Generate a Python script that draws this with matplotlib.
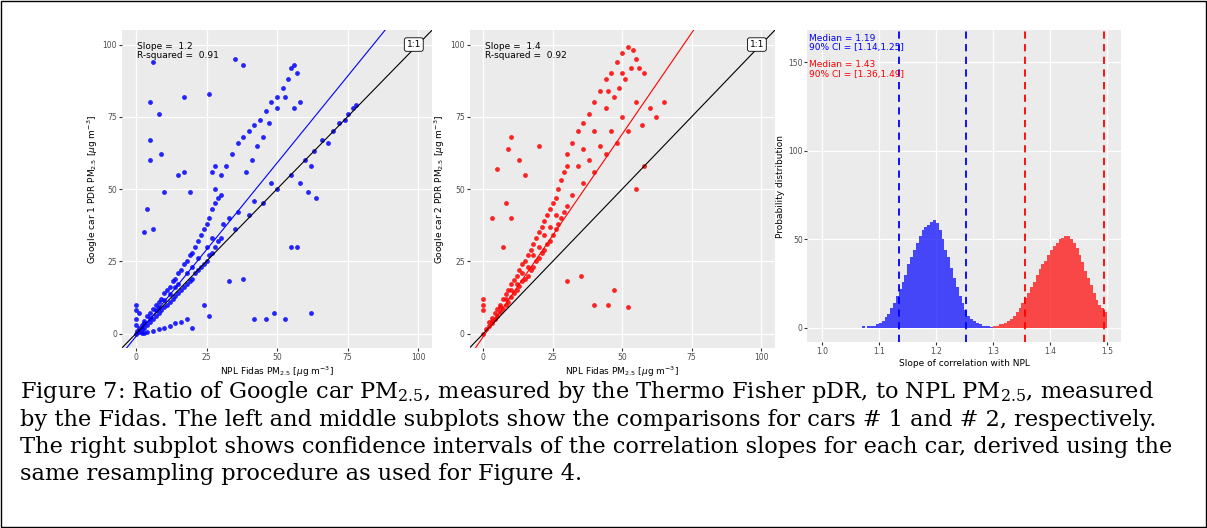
import matplotlib
matplotlib.use("Agg")
import matplotlib.pyplot as plt
import numpy as np
from matplotlib.patches import Rectangle

# ---------------- data ----------------
car1_x = [0,0.5,1,1,2,2,3,3,4,4,5,5,6,6,7,7,8,8,9,9,10,10,11,11,12,12,13,13,14,14,15,15,16,16,17,17,18,18,19,19,20,20,21,21,22,22,23,23,24,24,25,25,26,26,27,27,28,28,29,29,30,30,
          5,10,15,20,25,8,12,18,3,7,14,22,27,
          2,4,6,8,10,12,14,16,18,3,0,0,0,0,1,
          28,30,32,34,36,38,40,42,44,46,48,50,52,54,55,56,57,58,56,53,50,47,45,43,41,39,27,28,
          35,40,45,50,55,60,63,66,70,72,75,77,78,74,68,62,58,48,42,36,33,31,
          5,8,17,26,35,38,6,5,9,5,17,15,10,19,4,6,3,42,46,49,53,62,55,57,64,61,38,33,20,26,24]
car1_y = [0,1,0.5,2,1.5,3,2,4.5,3,6,4,7,5,8.5,6,10,7,11,8,12,9,14,10,15,11,16,12,18,13,19,14,21,15,22,16,24,17,25,18,27,19,28,21,30,22,32,23,34,24,36,25,38,27,40,28,43,30,45,32,47,33,48,
          5.5,11.5,17,23,30,9,13.5,21,3.5,8,16,26,33,
          0.2,0.5,1,1.5,2,2.5,3.5,4,5,0.3,5,8,10,3,7,
          50,55,58,62,66,68,70,72,74,77,80,82,85,88,92,93,90,80,78,82,78,73,68,65,60,56,56,58,
          36,41,45,50,55,60,63,67,70,73,76,78,79,74,66,58,52,52,46,42,40,38,
          80,76,82,83,95,93,94,67,62,60,56,55,49,49,43,36,35,5,5,7,5,7,30,30,47,49,19,18,2,6,10]

car2_x = [0,1,2,2,3,3,4,4,5,5,6,6,7,7,8,8,9,9,10,10,11,11,12,12,13,13,14,14,15,15,16,16,17,17,18,18,19,19,20,20,21,21,22,22,23,23,24,24,25,25,26,26,27,27,28,28,29,29,30,30,
          6,10,14,18,22,26,3,8,12,16,20,24,
          30,32,34,36,38,40,42,44,46,48,50,52,54,55,53,51,49,47,45,50,56,58,44,40,36,34,38,42,46,50,55,60,65,62,57,52,48,44,40,36,32,
          10,9,5,13,8,10,15,20,40,45,52,47,35,30,0,0,0,3,7,58,55]
car2_y = [0,1.5,2.5,4,3.5,5.5,5,7,6,8.5,7.5,10,8.5,12,10,13.5,11,15,12.5,17,14,18.5,15,20,16.5,22,18,24,19,25,20,27,22,29,23,31,25,33,26,35,28,37,29,39,31,41,32,43,34,45,36,47,38,50,40,53,42,56,44,58,
          9,15,21,27,34,41,4.5,12,17,23,30,37,
          62,66,70,73,76,80,84,88,90,94,97,99,98,95,92,88,85,82,84,90,92,90,78,70,64,58,60,65,70,75,80,78,80,75,72,70,66,62,56,52,48,
          68,64,57,60,45,40,55,65,10,10,9,15,20,18,10,12,8,40,30,58,50]

bin_width = 0.005
blue_start = 1.07
blue_counts = [1,0,1,1,1,2,3,4,6,8,11,14,18,22,26,30,36,40,44,48,52,55,57,58,60,61,59,55,50,44,40,34,28,23,18,14,10,7,5,4,3,2,1,1,1,0.5]
red_start = 1.30
red_counts = [1,1,2,2,3,4,5,7,9,11,14,17,20,23,26,30,33,36,38,41,44,46,48,50,51,52,52,50,48,45,41,37,32,28,24,20,16,13,11,9]
ci_blue = [1.135, 1.253]
ci_red = [1.357, 1.495]

caption_lines = [
    r"Figure 7: Ratio of Google car PM$_{2.5}$, measured by the Thermo Fisher pDR, to NPL PM$_{2.5}$, measured",
    r"by the Fidas. The left and middle subplots show the comparisons for cars # 1 and # 2, respectively.",
    r"The right subplot shows confidence intervals of the correlation slopes for each car, derived using the",
    r"same resampling procedure as used for Figure 4.",
]

# ---------------- figure ----------------
W, H = 1207, 528
fig = plt.figure(figsize=(W/100, H/100), dpi=100)
plt.rcParams['mathtext.fontset'] = 'dejavusans'
fig.patches.append(Rectangle((0.001, 0.001), 0.998, 0.997, transform=fig.transFigure,
                             fill=False, edgecolor='black', lw=1))

def style(ax):
    ax.set_facecolor('#EBEBEB')
    for s in ax.spines.values():
        s.set_visible(False)
    ax.grid(True, color='white', lw=0.9)
    ax.set_axisbelow(True)
    ax.tick_params(labelsize=5.5, length=2, color='#333333', labelcolor='#4D4D4D', pad=1.5)

def scatter_panel(rect, xs, ys, color, slope, r2, ylabel):
    ax = fig.add_axes(rect)
    style(ax)
    ax.scatter(xs, ys, s=12, color=color, alpha=0.85, lw=0)
    ax.axline((0, 0), slope=1, color='black', lw=0.8)
    ax.axline((0, -1), slope=slope, color=color, lw=0.8)
    ax.set_xlim(-5, 105); ax.set_ylim(-5, 105)
    ax.set_xticks([0, 25, 50, 75, 100]); ax.set_yticks([0, 25, 50, 75, 100])
    ax.set_xlabel(r"NPL Fidas PM$_{2.5}$ [$\mu$g m$^{-3}$]", fontsize=6.5, labelpad=2)
    ax.set_ylabel(ylabel, fontsize=6.5, labelpad=2)
    ax.text(0.5, 101, f"Slope =  {slope}\nR-squared =  {r2}", fontsize=6.5, va='top', linespacing=1.1)
    ax.text(98.5, 100, "1:1", fontsize=6.5, ha='center', va='center',
            bbox=dict(boxstyle='round,pad=0.25', fc='white', ec='black', lw=0.6))
    return ax

scatter_panel([0.101, 0.341, 0.257, 0.602], car1_x, car1_y, 'blue', 1.2, 0.91,
              r"Google car 1 PDR PM$_{2.5}$ [$\mu$g m$^{-3}$]")
scatter_panel([0.389, 0.341, 0.253, 0.602], car2_x, car2_y, 'red', 1.4, 0.92,
              r"Google car 2 PDR PM$_{2.5}$ [$\mu$g m$^{-3}$]")

ax = fig.add_axes([0.669, 0.352, 0.260, 0.591])
style(ax)
bx = [blue_start + i*bin_width for i in range(len(blue_counts))]
rx = [red_start + i*bin_width for i in range(len(red_counts))]
ax.bar(bx, blue_counts, width=bin_width, align='edge', color='blue', alpha=0.7, lw=0)
ax.bar(rx, red_counts, width=bin_width, align='edge', color='red', alpha=0.7, lw=0)
for v in ci_blue:
    ax.axvline(v, color='blue', ls=(0, (4, 3)), lw=1.3)
for v in ci_red:
    ax.axvline(v, color='red', ls=(0, (4, 3)), lw=1.3)
ax.set_xlim(0.975, 1.525); ax.set_ylim(-8, 168)
ax.set_xticks([1.0, 1.1, 1.2, 1.3, 1.4, 1.5])
ax.set_xticklabels(["1.0", "1.1", "1.2", "1.3", "1.4", "1.5"])
ax.set_yticks([0, 50, 100, 150])
ax.set_xlabel("Slope of correlation with NPL", fontsize=6.5, labelpad=2)
ax.set_ylabel("Probability distribution", fontsize=6.5, labelpad=2)
ax.text(0.977, 166, "Median = 1.19\n90% CI = [1.14,1.25]", color='blue', fontsize=6.5, va='top', linespacing=1.1)
ax.text(0.977, 151, "Median = 1.43\n90% CI = [1.36,1.49]", color='red', fontsize=6.5, va='top', linespacing=1.1)

ys = [392, 420, 447, 474]
for line, y in zip(caption_lines, ys):
    fig.text(20/W, 1 - y/H, line, fontsize=16.2, family='DejaVu Serif', va='center', ha='left',
             math_fontfamily='dejavuserif')

fig.savefig("out.png", dpi=100)
